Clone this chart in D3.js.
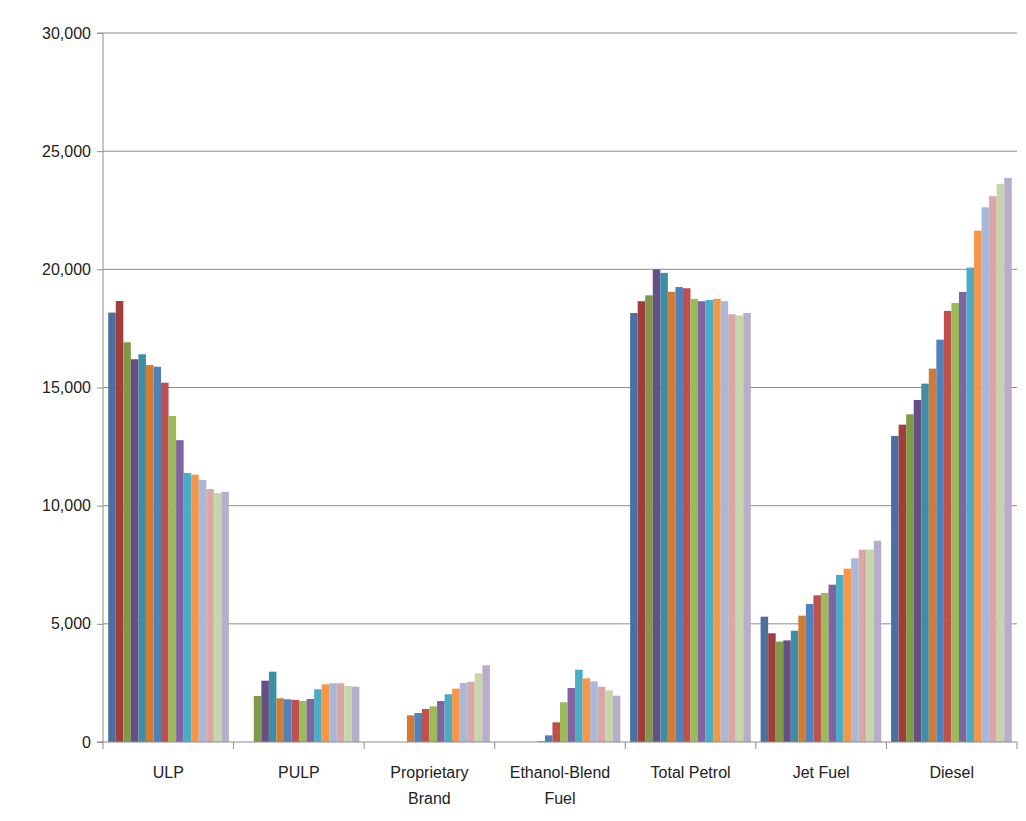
<!DOCTYPE html>
<html>
<head>
<meta charset="utf-8">
<script src="https://cdn.jsdelivr.net/npm/d3@7"></script>
<style>
  body { margin: 0; background: #fff; }
  text { font-family: "Liberation Sans", "DejaVu Sans", sans-serif; }
</style>
</head>
<body>
<div id="chart"></div>
<script>
const categories = [["ULP"], ["PULP"], ["Proprietary", "Brand"], ["Ethanol-Blend", "Fuel"], ["Total Petrol"], ["Jet Fuel"], ["Diesel"]];
const colors = ["#4a6fa0", "#a03e3c", "#7f9a48", "#664f86", "#3d8ea4", "#d07c34", "#4f81bd", "#c0504d",
  "#9bbb59", "#8064a2", "#4bacc6", "#f79646", "#a9b8d9", "#d9a7a6", "#c6d5aa", "#b8aecb"];
// one row per category, 16 series each
const ulp = [18170, 18660, 16915, 16195, 16405, 15950, 15880, 15205, 13795, 12770, 11385, 11310, 11090, 10705, 10535, 10590];
const pulp = [0, 0, 1950, 2595, 2975, 1850, 1805, 1780, 1735, 1820, 2230, 2440, 2485, 2485, 2370, 2340];
const proprietary = [0, 0, 0, 0, 0, 1130, 1227, 1397, 1510, 1735, 2020, 2256, 2497, 2552, 2907, 3246];
const ethanol = [0, 0, 0, 0, 0, 40, 283, 833, 1680, 2285, 3060, 2695, 2567, 2340, 2188, 1960];
const totalPetrol = [18150, 18650, 18900, 20000, 19850, 19050, 19250, 19200, 18750, 18650, 18700, 18750, 18650, 18100, 18050, 18150];
const jetFuel = [5303, 4600, 4250, 4300, 4710, 5345, 5840, 6208, 6305, 6657, 7067, 7334, 7774, 8138, 8138, 8519];
const diesel = [12950, 13428, 13868, 14473, 15163, 15798, 17025, 18240, 18578, 19044, 20073, 21638, 22627, 23093, 23614, 23868];
const values = [ulp, pulp, proprietary, ethanol, totalPetrol, jetFuel, diesel];
const yTicks = [0, 5000, 10000, 15000, 20000, 25000, 30000];

const W = 1026, H = 821;
const m = { left: 103, right: 9, top: 33, bottom: 79 };
const svg = d3.select("#chart").append("svg").attr("width", W).attr("height", H);

const x = d3.scaleBand().domain(d3.range(categories.length)).range([m.left, W - m.right]).paddingInner(0.075).paddingOuter(0.04);
const xs = d3.scaleBand().domain(d3.range(colors.length)).range([0, x.bandwidth()]);
const y = d3.scaleLinear().domain([0, 30000]).range([H - m.bottom, m.top]);

// gridlines
svg.append("g").selectAll("line").data(yTicks.slice(1)).join("line")
  .attr("x1", m.left).attr("x2", W - m.right)
  .attr("y1", d => y(d)).attr("y2", d => y(d))
  .attr("stroke", "#8c8c8c").attr("stroke-width", 1);

// bars
const g = svg.append("g").selectAll("g").data(values).join("g")
  .attr("transform", (d, i) => `translate(${x(i)},0)`);
g.selectAll("rect").data(d => d).join("rect")
  .attr("x", (d, i) => xs(i)).attr("width", xs.bandwidth())
  .attr("y", d => y(d)).attr("height", d => y(0) - y(d))
  .attr("fill", (d, i) => colors[i]);

// y axis
const ya = svg.append("g").attr("transform", `translate(${m.left},0)`)
  .call(d3.axisLeft(y).tickValues(yTicks).tickFormat(d3.format(",")).tickSize(6).tickPadding(6));
ya.selectAll("line, path").attr("stroke", "#8c8c8c");
ya.select(".domain").attr("d", `M-6,${y(30000)}H0V${y(0)}H-6`);
ya.selectAll("text").attr("font-size", 16).attr("fill", "#222");

// x axis
const step = (W - m.right - m.left) / categories.length;
const xa = svg.append("g");
xa.append("line").attr("x1", m.left).attr("x2", W - m.right).attr("y1", y(0)).attr("y2", y(0)).attr("stroke", "#8c8c8c");
xa.selectAll(".tk").data(d3.range(categories.length + 1)).join("line")
  .attr("x1", i => m.left + i * step).attr("x2", i => m.left + i * step)
  .attr("y1", y(0)).attr("y2", y(0) + 7).attr("stroke", "#8c8c8c");
xa.selectAll(".lbl").data(categories).join("text")
  .attr("x", (d, i) => m.left + (i + 0.5) * step)
  .attr("y", y(0) + 36)
  .attr("text-anchor", "middle").attr("font-size", 16).attr("fill", "#222")
  .selectAll("tspan").data(d => d).join("tspan")
  .attr("x", function () { return this.parentNode.getAttribute("x"); })
  .attr("dy", (d, i) => i ? 26 : 0).text(d => d);
</script>
</body>
</html>
